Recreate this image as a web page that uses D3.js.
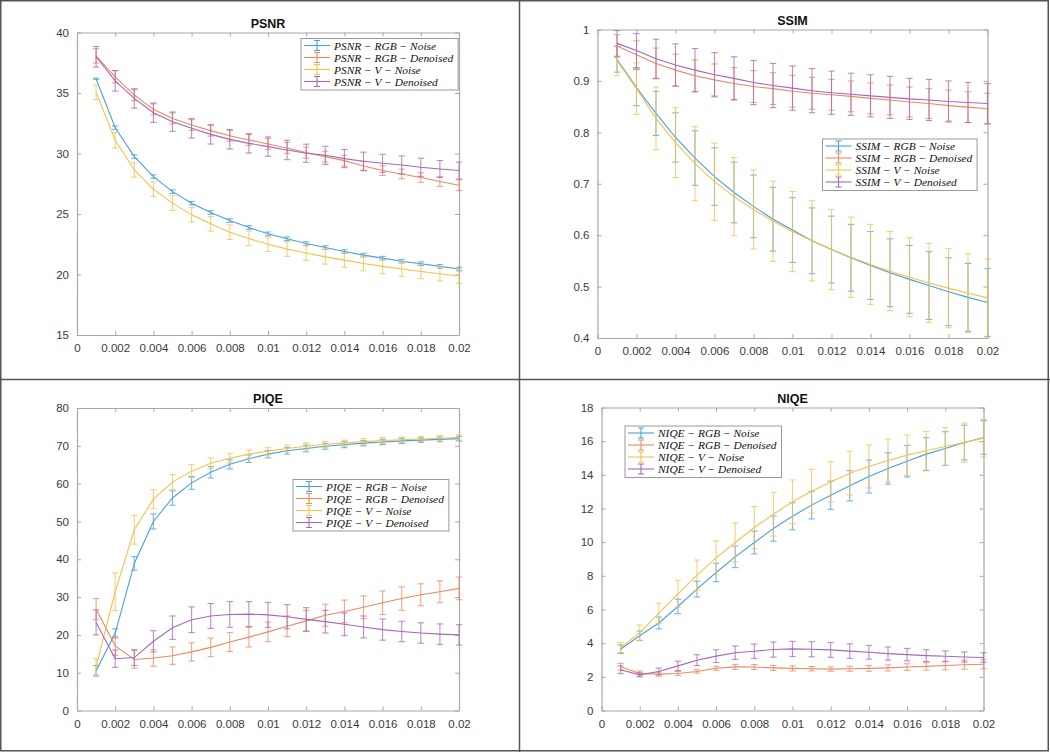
<!DOCTYPE html>
<html><head><meta charset="utf-8">
<script src="https://cdn.jsdelivr.net/npm/d3@7"></script>
<style>body{margin:0;background:#fff} svg{display:block}</style>
</head><body>
<svg id="c" width="1050" height="752"></svg>
<script>
// ---------- data ----------
const xVals = [0.001,0.002,0.003,0.004,0.005,0.006,0.007,0.008,0.009,0.010,0.011,0.012,0.013,0.014,0.015,0.016,0.017,0.018,0.019,0.020];
const xTicks = [0,0.002,0.004,0.006,0.008,0.01,0.012,0.014,0.016,0.018,0.02];

const psnrTicks = [15,20,25,30,35,40];
const psnrRgbNoise      = [36.18,32.13,29.74,28.09,26.85,25.89,25.12,24.46,23.88,23.36,22.95,22.56,22.23,21.9,21.6,21.35,21.1,20.89,20.67,20.45];
const psnrRgbNoiseErr   = [0.05,0.15,0.15,0.15,0.15,0.15,0.15,0.15,0.15,0.15,0.15,0.15,0.15,0.15,0.15,0.15,0.15,0.15,0.15,0.15];
const psnrRgbDen        = [38.07,36.34,34.83,33.65,32.9,32.35,31.89,31.47,31.12,30.79,30.46,30.07,29.74,29.41,28.97,28.59,28.31,28.01,27.68,27.38];
const psnrRgbDenErr     = [0.6,0.5,0.45,0.45,0.45,0.45,0.45,0.45,0.45,0.45,0.45,0.45,0.45,0.45,0.4,0.4,0.4,0.4,0.4,0.45];
const psnrVNoise        = [35.05,31.1,28.64,27.05,25.9,24.93,24.19,23.5,22.98,22.5,22.1,21.77,21.46,21.19,20.91,20.67,20.45,20.25,20.06,19.87];
const psnrVNoiseErr     = [0.6,0.65,0.6,0.6,0.6,0.6,0.6,0.6,0.6,0.6,0.6,0.6,0.6,0.6,0.6,0.6,0.6,0.6,0.6,0.6];
const psnrVDen          = [38.0,36.01,34.55,33.37,32.63,32.08,31.58,31.17,30.84,30.57,30.29,30.02,29.85,29.58,29.36,29.19,29.05,28.86,28.72,28.59];
const psnrVDenErr       = [0.85,0.85,0.8,0.8,0.8,0.8,0.8,0.8,0.8,0.8,0.8,0.75,0.75,0.75,0.75,0.75,0.75,0.75,0.7,0.7];

const ssimTicks = [0.4,0.5,0.6,0.7,0.8,0.9,1];
const ssimRgbNoise      = [0.942,0.887,0.837,0.79,0.75,0.714,0.683,0.656,0.631,0.61,0.589,0.572,0.556,0.541,0.527,0.514,0.502,0.49,0.479,0.469];
const ssimRgbNoiseErr   = [0.025,0.035,0.043,0.048,0.053,0.056,0.059,0.061,0.062,0.063,0.064,0.065,0.065,0.066,0.066,0.066,0.066,0.066,0.066,0.066];
const ssimRgbDen        = [0.968,0.951,0.934,0.921,0.91,0.902,0.895,0.889,0.885,0.88,0.876,0.873,0.87,0.866,0.863,0.859,0.856,0.852,0.849,0.846];
const ssimRgbDenErr     = [0.022,0.027,0.03,0.031,0.031,0.031,0.031,0.031,0.031,0.031,0.031,0.03,0.03,0.03,0.029,0.029,0.029,0.03,0.03,0.03];
const ssimVNoise        = [0.94,0.885,0.827,0.78,0.739,0.704,0.675,0.65,0.627,0.607,0.589,0.572,0.557,0.543,0.53,0.518,0.507,0.497,0.487,0.478];
const ssimVNoiseErr     = [0.03,0.05,0.061,0.068,0.072,0.075,0.076,0.077,0.078,0.078,0.078,0.078,0.078,0.078,0.077,0.077,0.077,0.077,0.077,0.076];
const ssimVDen          = [0.973,0.959,0.943,0.931,0.921,0.912,0.905,0.897,0.891,0.886,0.881,0.877,0.874,0.871,0.868,0.865,0.863,0.86,0.858,0.856];
const ssimVDenErr       = [0.025,0.033,0.038,0.041,0.042,0.043,0.042,0.043,0.043,0.043,0.043,0.042,0.041,0.041,0.041,0.04,0.04,0.04,0.039,0.039];

const piqeTicks = [0,10,20,30,40,50,60,70,80];
const piqeRgbNoise      = [10.5,20.4,38.9,50.0,56.2,60.2,63.0,65.1,66.6,67.8,68.7,69.3,69.9,70.3,70.7,71.0,71.3,71.5,71.7,71.9];
const piqeRgbNoiseErr   = [1.4,1.2,1.8,2.0,1.9,1.7,1.5,1.2,1.0,1.0,0.9,0.9,0.8,0.8,0.7,0.7,0.7,0.6,0.6,0.6];
const piqeRgbDen        = [26.8,17.1,13.5,13.9,14.5,15.5,16.7,18.1,19.4,20.8,22.3,23.7,25.2,26.2,27.3,28.5,29.6,30.6,31.4,32.3];
const piqeRgbDenErr     = [2.8,2.5,2.3,2.2,2.3,2.4,2.45,2.5,2.6,2.6,2.7,2.8,2.9,3.0,3.0,3.1,3.1,2.9,2.9,3.0];
const piqeVNoise        = [11.6,31.4,47.8,55.9,60.4,63.3,65.4,66.7,67.8,68.6,69.3,69.9,70.4,70.7,71.1,71.4,71.6,71.8,72.0,72.2];
const piqeVNoiseErr     = [2.1,5.0,3.8,2.5,2.0,1.7,1.4,1.2,1.1,1.0,0.9,0.9,0.8,0.8,0.8,0.8,0.7,0.7,0.7,0.7];
const piqeVDen          = [23.3,13.7,14.0,18.3,21.9,24.0,25.0,25.4,25.5,25.3,24.8,24.1,23.5,22.8,22.1,21.4,20.9,20.5,20.2,20.0];
const piqeVDenErr       = [3.3,2.3,2.1,2.8,3.1,3.4,3.3,3.4,3.3,3.3,3.2,3.1,3.0,3.0,2.9,2.8,2.7,2.7,2.7,2.7];

const niqeTicks = [0,2,4,6,8,10,12,14,16,18];
const niqeRgbNoise      = [3.64,4.44,5.2,6.18,7.21,8.2,9.13,9.98,10.81,11.54,12.2,12.79,13.35,13.9,14.38,14.81,15.23,15.56,15.92,16.22];
const niqeRgbNoiseErr   = [0.25,0.28,0.35,0.43,0.47,0.55,0.64,0.68,0.75,0.8,0.82,0.84,0.9,0.98,0.93,0.94,0.98,1.0,1.03,1.0];
const niqeRgbDen        = [2.6,2.2,2.16,2.2,2.32,2.51,2.59,2.58,2.53,2.5,2.48,2.46,2.48,2.5,2.53,2.58,2.62,2.67,2.72,2.75];
const niqeRgbDenErr     = [0.2,0.15,0.12,0.12,0.1,0.12,0.15,0.15,0.15,0.15,0.13,0.13,0.15,0.17,0.18,0.2,0.22,0.25,0.27,0.27];
const niqeVNoise        = [3.74,4.61,5.78,6.93,8.04,9.07,9.98,10.87,11.66,12.4,13.03,13.58,14.1,14.5,14.85,15.17,15.43,15.68,15.92,16.18];
const niqeVNoiseErr     = [0.3,0.46,0.6,0.8,0.9,1.0,1.15,1.25,1.3,1.3,1.3,1.2,1.3,1.28,1.27,1.2,1.15,1.12,1.16,1.12];
const niqeVDen          = [2.42,2.12,2.32,2.65,2.99,3.23,3.43,3.52,3.62,3.66,3.64,3.6,3.53,3.46,3.38,3.32,3.26,3.22,3.18,3.15];
const niqeVDenErr       = [0.23,0.12,0.2,0.28,0.32,0.38,0.4,0.43,0.45,0.45,0.45,0.44,0.43,0.41,0.39,0.37,0.35,0.32,0.3,0.28];

const seriesSuffixes = ["RGB \u2212 Noise","RGB \u2212 Denoised","V \u2212 Noise","V \u2212 Denoised"];
const seriesColors = ["#4aa0da","#ec8a60","#f2c24f","#a867b9"];

// ---------- layout ----------
const panels = [
  {title:"PSNR", ticks:psnrTicks, vals:[psnrRgbNoise,psnrRgbDen,psnrVNoise,psnrVDen], errs:[psnrRgbNoiseErr,psnrRgbDenErr,psnrVNoiseErr,psnrVDenErr],
   box:{l:77,r:459,t:32.5,b:335}, leg:{x:301,y:38.5}},
  {title:"SSIM", ticks:ssimTicks, vals:[ssimRgbNoise,ssimRgbDen,ssimVNoise,ssimVDen], errs:[ssimRgbNoiseErr,ssimRgbDenErr,ssimVNoiseErr,ssimVDenErr],
   box:{l:597.5,r:987.5,t:29.5,b:338}, leg:{x:822.5,y:139}},
  {title:"PIQE", ticks:piqeTicks, vals:[piqeRgbNoise,piqeRgbDen,piqeVNoise,piqeVDen], errs:[piqeRgbNoiseErr,piqeRgbDenErr,piqeVNoiseErr,piqeVDenErr],
   box:{l:77,r:459,t:408,b:710.5}, leg:{x:293,y:479.5}},
  {title:"NIQE", ticks:niqeTicks, vals:[niqeRgbNoise,niqeRgbDen,niqeVNoise,niqeVDen], errs:[niqeRgbNoiseErr,niqeRgbDenErr,niqeVNoiseErr,niqeVDenErr],
   box:{l:601.5,r:983.5,t:407.5,b:710.5}, leg:{x:625,y:426}},
];

const svg = d3.select("#c");
const fmt = d3.format("~g");
const axisCol = "#a8a8a8", labCol = "#3a3a3a";

// frames
svg.append("rect").attr("x",0.75).attr("y",0.75).attr("width",1047.5).attr("height",750)
  .attr("fill","none").attr("stroke","#555").attr("stroke-width",1.5);
svg.append("line").attr("x1",519.5).attr("x2",519.5).attr("y1",0).attr("y2",752).attr("stroke","#555").attr("stroke-width",1.5);
svg.append("line").attr("x1",0).attr("x2",1050).attr("y1",379.5).attr("y2",379.5).attr("stroke","#555").attr("stroke-width",1.5);

panels.forEach(p => {
  const B = p.box;
  const x = d3.scaleLinear().domain([0,0.02]).range([B.l,B.r]);
  const y = d3.scaleLinear().domain([p.ticks[0], p.ticks[p.ticks.length-1]]).range([B.b,B.t]);
  const g = svg.append("g");
  g.append("rect").attr("x",B.l).attr("y",B.t).attr("width",B.r-B.l).attr("height",B.b-B.t).attr("fill","#fff");

  // axes
  const xa = g.append("g").attr("transform",`translate(0,${B.b})`)
    .call(d3.axisBottom(x).tickValues(xTicks).tickFormat(fmt).tickSizeInner(-4).tickSizeOuter(0).tickPadding(9));
  const xt = g.append("g").attr("transform",`translate(0,${B.t})`)
    .call(d3.axisTop(x).tickValues(xTicks).tickFormat("").tickSizeInner(-4).tickSizeOuter(0));
  const ya = g.append("g").attr("transform",`translate(${B.l},0)`)
    .call(d3.axisLeft(y).tickValues(p.ticks).tickFormat(fmt).tickSizeInner(-4).tickSizeOuter(0).tickPadding(8));
  const yr = g.append("g").attr("transform",`translate(${B.r},0)`)
    .call(d3.axisRight(y).tickValues(p.ticks).tickFormat("").tickSizeInner(-4).tickSizeOuter(0));
  [xa,xt,ya,yr].forEach(a => {
    a.select(".domain").attr("stroke",axisCol).attr("stroke-width",1.2);
    a.selectAll(".tick line").attr("stroke",axisCol);
    a.selectAll("text").attr("fill",labCol).attr("font-family","Liberation Sans, Arial, sans-serif").attr("font-size",11.5);
  });

  // series
  p.vals.forEach((vals,i) => {
    const col = seriesColors[i];
    const errs = p.errs[i];
    const sg = g.append("g");
    sg.append("path").datum(vals).attr("fill","none").attr("stroke",col).attr("stroke-width",1.1)
      .attr("d", d3.line().x((d,j)=>x(xVals[j])).y(d=>y(d)));
    const eb = sg.selectAll("g.eb").data(vals).enter().append("g").attr("stroke",col).attr("stroke-opacity",0.75).attr("stroke-width",1.1);
    eb.append("line").attr("x1",(d,j)=>x(xVals[j])).attr("x2",(d,j)=>x(xVals[j]))
      .attr("y1",(d,j)=>y(d-errs[j])).attr("y2",(d,j)=>y(d+errs[j]));
    eb.append("line").attr("x1",(d,j)=>x(xVals[j])-3.2).attr("x2",(d,j)=>x(xVals[j])+3.2)
      .attr("y1",(d,j)=>y(d-errs[j])).attr("y2",(d,j)=>y(d-errs[j]));
    eb.append("line").attr("x1",(d,j)=>x(xVals[j])-3.2).attr("x2",(d,j)=>x(xVals[j])+3.2)
      .attr("y1",(d,j)=>y(d+errs[j])).attr("y2",(d,j)=>y(d+errs[j]));
  });

  // title
  g.append("text").attr("x",(B.l+B.r)/2).attr("y",B.t-5).attr("text-anchor","middle")
    .attr("font-family","Liberation Sans, Arial, sans-serif").attr("font-weight","bold").attr("font-size",12.5)
    .attr("fill","#111").text(p.title);

  // legend
  const L = p.leg;
  const lg = g.append("g").attr("transform",`translate(${L.x},${L.y})`);
  const lrect = lg.append("rect").attr("x",0).attr("y",0).attr("height",51.5).attr("fill","#fff")
    .attr("stroke","#999").attr("stroke-width",1);
  let maxW = 0;
  seriesSuffixes.forEach((s,i) => {
    const cy = 7 + i*12;
    const col = seriesColors[i];
    lg.append("line").attr("x1",3).attr("x2",29).attr("y1",cy).attr("y2",cy).attr("stroke",col).attr("stroke-width",1.1);
    lg.append("line").attr("x1",16).attr("x2",16).attr("y1",cy-5).attr("y2",cy+5).attr("stroke",col).attr("stroke-width",1.1);
    lg.append("line").attr("x1",13).attr("x2",19).attr("y1",cy-5).attr("y2",cy-5).attr("stroke",col);
    lg.append("line").attr("x1",13).attr("x2",19).attr("y1",cy+5).attr("y2",cy+5).attr("stroke",col);
    const t = lg.append("text").attr("x",33).attr("y",cy+4)
      .attr("font-family","Liberation Serif, 'DejaVu Serif', serif").attr("font-style","italic").attr("font-size",11.4)
      .attr("fill","#111").text(p.title + " \u2212 " + s);
    maxW = Math.max(maxW, t.node().getComputedTextLength());
  });
  lrect.attr("width", 33 + maxW + 5);
});
</script>
</body></html>
